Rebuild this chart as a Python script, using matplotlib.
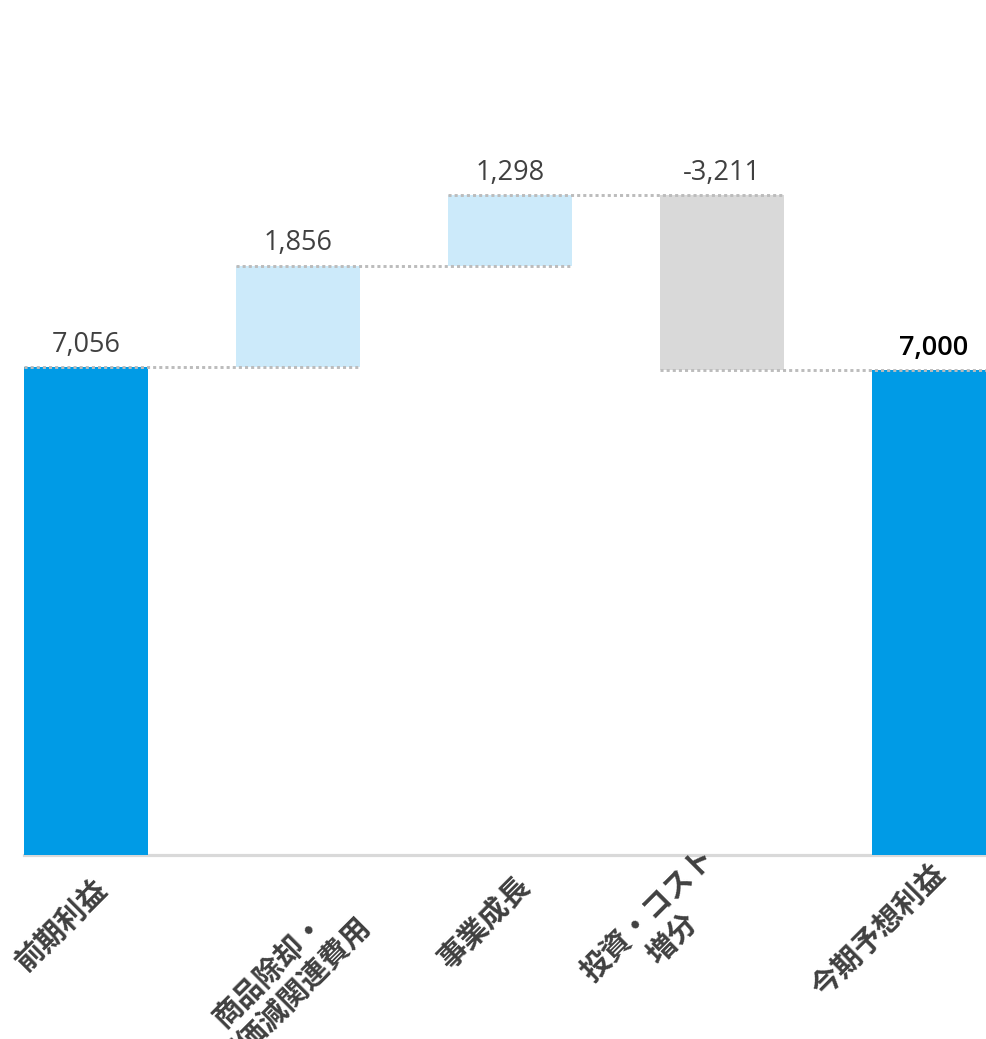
import matplotlib
matplotlib.use("Agg")
import matplotlib.pyplot as plt

plt.rcParams['font.family'] = ['Noto Sans CJK JP', 'DejaVu Sans']

# データ
categories = ["前期利益", "商品除却・\n評価減関連費用", "事業成長", "投資・コスト\n増分", "今期予想利益"]
values = [7056, 1856, 1298, -3211, 7000]
kinds = ["total", "delta", "delta", "delta", "total"]
value_labels = ["7,056", "1,856", "1,298", "-3,211", "7,000"]

# 色
BLUE = "#009be6"
LIGHT = "#cceafa"
GRAY = "#d9d9d9"
DOT = "#bcbcbc"
TEXT = "#404040"

# レイアウト（px単位、dpi=100）
W, H = 987, 1039
base_px = 855
ymin, ymax = -1870, 13775
bar_w = 0.585
# ラベルの中心位置（バー中心・軸下端からのずれ、px）
lab_dx = [-24.5, -16, -25, -62, -55.5]
lab_dy = [-70, -128, -67.5, -72, -76]

fig = plt.figure(figsize=(W / 100, H / 100), dpi=100)
ax = fig.add_axes([0, (H - base_px) / H, 1, base_px / H])
ax.set_xlim(-86 / 212, (W - 86) / 212)
ax.set_ylim(ymin, ymax)
ax.axis("off")

running = 0
levels = []
for i, (v, k) in enumerate(zip(values, kinds)):
    if k == "total":
        ax.bar(i, v - ymin, bottom=ymin, width=bar_w, color=BLUE, zorder=2)
        running = v
        top = v
        color, weight = (TEXT, "normal") if i == 0 else ("black", "semibold")
    else:
        start = running
        running = start + v
        ax.bar(i, v, bottom=start, width=bar_w,
               color=LIGHT if v > 0 else GRAY, zorder=2)
        top = max(start, running)
        color, weight = TEXT, "normal"
    levels.append(running)
    ax.annotate(value_labels[i], xy=(i, top), xytext=(0, 11),
                textcoords="offset points", ha="center", va="baseline",
                fontsize=19.5, color=color, fontweight=weight,
                family=["Open Sans", "DejaVu Sans"])

# 点線のコネクタ
for i in range(len(values) - 1):
    ax.plot([i - bar_w / 2, i + 1 + bar_w / 2], [levels[i], levels[i]],
            color=DOT, lw=2.1, linestyle=(0, (1.05, 1.05)), zorder=3,
            clip_on=True)

# 下端の線
ax.plot([-bar_w / 2, len(values)], [ymin, ymin], color=GRAY, lw=2.3,
        zorder=1, clip_on=False)

# カテゴリラベル
for i, name in enumerate(categories):
    ax.annotate(name, xy=(i, ymin),
                xytext=(lab_dx[i] * 0.72, lab_dy[i] * 0.72),
                textcoords="offset points", rotation=45,
                rotation_mode="anchor", ha="center", va="center",
                multialignment="center", linespacing=1.2,
                fontsize=21, fontweight="bold", color=TEXT,
                annotation_clip=False)

fig.savefig("out.png", dpi=100)
